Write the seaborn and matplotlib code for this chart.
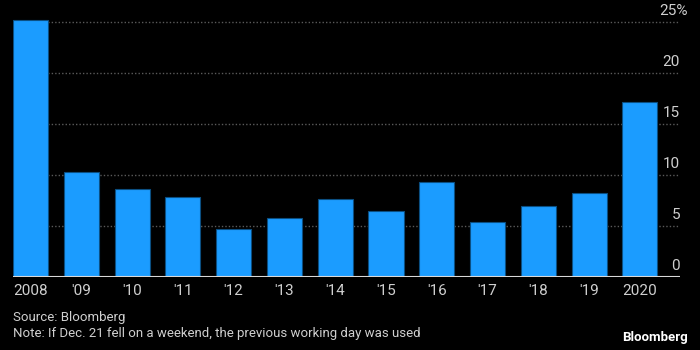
import matplotlib
matplotlib.use("Agg")
import matplotlib.pyplot as plt
import seaborn as sns
import pandas as pd
from matplotlib import font_manager

years = ["2008", "'09", "'10", "'11", "'12", "'13", "'14", "'15", "'16", "'17", "'18", "'19", "2020"]
values = [25.2, 10.35, 8.65, 7.85, 4.75, 5.8, 7.65, 6.5, 9.35, 5.4, 7.0, 8.25, 17.2]
yticks = [0, 5, 10, 15, 20, 25]
ytick_labels = ["0", "5", "10", "15", "20", "25%"]
source_text = "Source: Bloomberg"
note_text = "Note: If Dec. 21 fell on a weekend, the previous working day was used"

sns.set_style("dark")
names = {f.name for f in font_manager.fontManager.ttflist}
fam = "Liberation Sans Narrow" if "Liberation Sans Narrow" in names else "Roboto"
plt.rcParams["font.family"] = [fam, "DejaVu Sans"]

df = pd.DataFrame({"year": years, "value": values})

fig = plt.figure(figsize=(7, 3.5), dpi=100, facecolor="black")
ax = fig.add_axes([13 / 700, (350 - 277.3) / 350, 667 / 700, (277.3 - 15) / 350])
ax.set_facecolor("black")

sns.barplot(data=df, x="year", y="value", color="#1b9cff", saturation=1,
            width=0.69, edgecolor="#0b4f82", linewidth=0.8, ax=ax, zorder=3)

ax.set_xlim(-0.345, 12.79)
ax.set_ylim(0, 25.72)
ax.set_xlabel("")
ax.set_ylabel("")
for s in ax.spines.values():
    s.set_visible(False)
ax.grid(False)
for v in yticks[1:]:
    ax.axhline(v, color="#5a5a5a", lw=1, ls=(0, (1, 1.5)), zorder=1)
ax.axhline(0, color="#d8d8d8", lw=1.5, zorder=4)

ax.set_yticks([])
ax.tick_params(axis="x", length=0, pad=5, labelsize=11, labelcolor="#cfcfcf")

for v, lab in zip(yticks, ytick_labels):
    xoff = 8 if lab.endswith("%") else 0
    ax.annotate(lab, xy=(1.0, v), xycoords=("axes fraction", "data"),
                xytext=(xoff, 4), textcoords="offset pixels",
                ha="right", va="bottom", color="#cfcfcf", fontsize=11)

fig.text(13 / 700, 1 - 318 / 350, source_text, color="#cfcfcf", fontsize=9.5, va="center")
fig.text(13 / 700, 1 - 334 / 350, note_text, color="#cfcfcf", fontsize=9.5, va="center")
fig.text(688 / 700, 1 - 338 / 350, "Bloomberg", color="white", fontsize=9.5,
         fontweight="bold", ha="right", va="center")

fig.savefig("out.png", dpi=100, facecolor="black")
